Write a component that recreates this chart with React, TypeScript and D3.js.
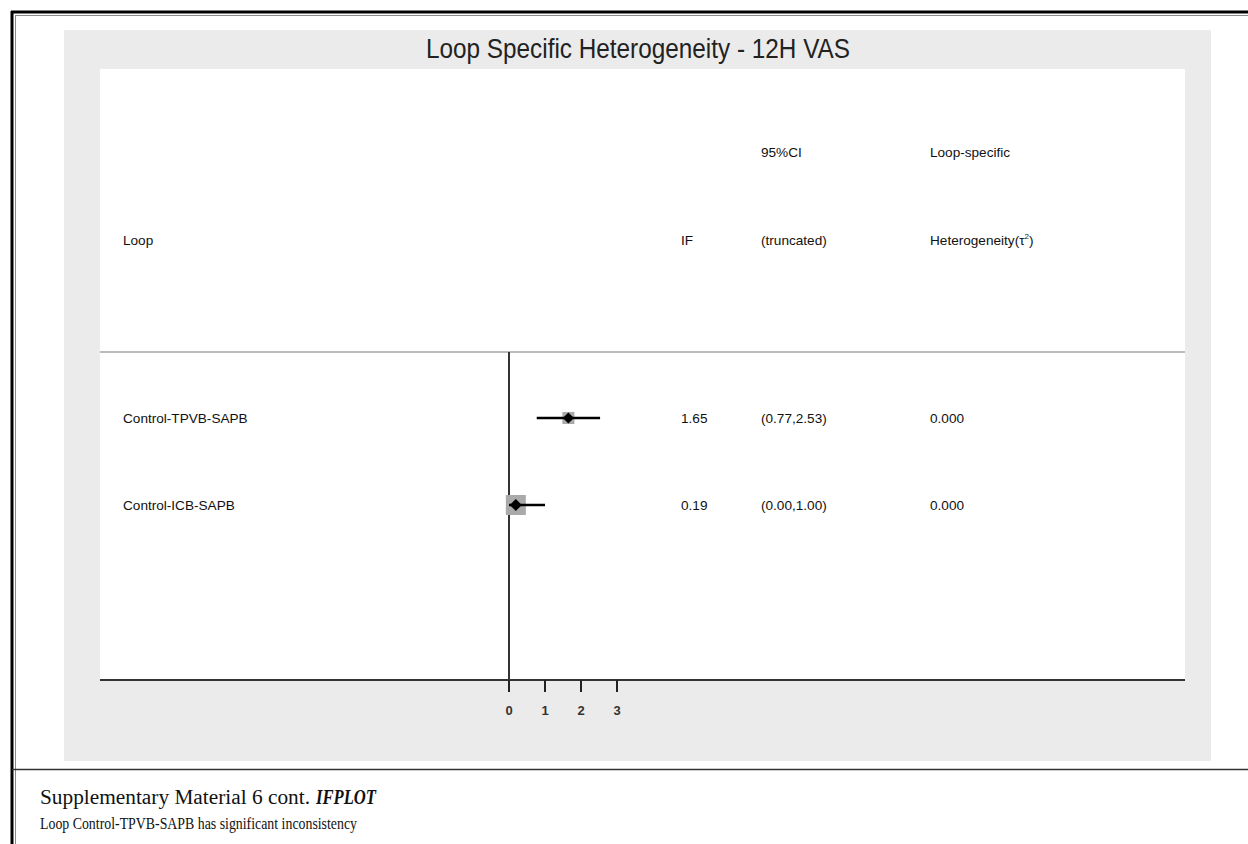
import React from "react";
import * as d3 from "d3";

const loops = ["Control-TPVB-SAPB", "Control-ICB-SAPB"];
const ifValues = [1.65, 0.19];
const ciLower = [0.77, 0.0];
const ciUpper = [2.53, 1.0];
const ifLabels = ["1.65", "0.19"];
const ciLabels = ["(0.77,2.53)", "(0.00,1.00)"];
const tauLabels = ["0.000", "0.000"];
const weights = [12, 20];
const xTicks = [0, 1, 2, 3];

export default function App() {
  const W = 1248, H = 844;
  const x = d3.scaleLinear().domain([0, 3]).range([509, 617]);
  const y = d3.scalePoint<string>().domain(loops).range([418, 505]);
  const sans = "'Liberation Sans', Arial, sans-serif";
  const serif = "'Liberation Serif', 'Times New Roman', serif";
  const fs = 13.6;
  const diamond = (cx: number, cy: number, r: number) =>
    `M${cx - r},${cy} L${cx},${cy - r} L${cx + r},${cy} L${cx},${cy + r} Z`;
  return (
    <svg width={W} height={H} style={{ position: "absolute", left: 0, top: 0 }}>
      <rect x={0} y={0} width={W} height={H} fill="#fff" />
      {/* outer frame */}
      <line x1={11} y1={12} x2={W} y2={12} stroke="#000" strokeWidth={3} />
      <line x1={15} y1={15.5} x2={W} y2={15.5} stroke="#888" strokeWidth={1} />
      <line x1={12} y1={11} x2={12} y2={H} stroke="#000" strokeWidth={3} />
      <line x1={15.5} y1={15} x2={15.5} y2={H} stroke="#888" strokeWidth={1} />
      <line x1={12} y1={769.5} x2={W} y2={769.5} stroke="#333" strokeWidth={1.5} />
      {/* gray panel */}
      <rect x={64} y={30} width={1147} height={731} fill="#ebebeb" />
      <rect x={100} y={69} width={1085} height={611} fill="#fff" />
      <text x={426} y={58} fontFamily={sans} fontSize={27} fill="#222"
        textLength={424} lengthAdjust="spacingAndGlyphs">
        Loop Specific Heterogeneity - 12H VAS
      </text>
      {/* headers */}
      <g fontFamily={sans} fontSize={fs} fill="#111">
        <text x={761} y={157}>95%CI</text>
        <text x={930} y={157}>Loop-specific</text>
        <text x={123} y={245}>Loop</text>
        <text x={681} y={245}>IF</text>
        <text x={761} y={245}>(truncated)</text>
        <text x={930} y={245}>
          Heterogeneity(τ<tspan dy={-6} fontSize={8}>2</tspan><tspan dy={6}>)</tspan>
        </text>
      </g>
      <line x1={100} y1={352} x2={1185} y2={352} stroke="#bbb" strokeWidth={2} />
      {/* null line */}
      <line x1={x(0)} y1={352} x2={x(0)} y2={690} stroke="#333" strokeWidth={2} />
      {/* axis */}
      <line x1={100} y1={680} x2={1185} y2={680} stroke="#333" strokeWidth={2} />
      {xTicks.map((t) => (
        <g key={t}>
          <line x1={x(t)} y1={680} x2={x(t)} y2={692} stroke="#222" strokeWidth={2} />
          <text x={x(t)} y={715} textAnchor="middle" fontFamily={sans} fontWeight="bold" fontSize={13} fill="#333">
            {t}
          </text>
        </g>
      ))}
      {/* rows */}
      {loops.map((l, i) => {
        const cy = y(l)!;
        const cx = x(ifValues[i]);
        const s = weights[i];
        return (
          <g key={l}>
            <text x={123} y={cy + 5} fontFamily={sans} fontSize={fs} fill="#111">{l}</text>
            <rect x={cx - s / 2} y={cy - s / 2} width={s} height={s} fill="#aaa" />
            <line x1={x(ciLower[i])} y1={cy} x2={x(ciUpper[i])} y2={cy} stroke="#000" strokeWidth={2.5} />
            <path d={diamond(cx, cy, i === 0 ? 5.5 : 6)} fill="#000" />
            <g fontFamily={sans} fontSize={fs} fill="#111">
              <text x={681} y={cy + 5}>{ifLabels[i]}</text>
              <text x={761} y={cy + 5}>{ciLabels[i]}</text>
              <text x={930} y={cy + 5}>{tauLabels[i]}</text>
            </g>
          </g>
        );
      })}
      {/* caption */}
      <text x={40} y={804} fontFamily={serif} fontSize={20} fill="#111"
        textLength={270} lengthAdjust="spacingAndGlyphs">
        Supplementary Material 6 cont.
      </text>
      <text x={316} y={804} fontFamily={serif} fontSize={20} fontStyle="italic" fontWeight="bold" fill="#111"
        textLength={60} lengthAdjust="spacingAndGlyphs">
        IFPLOT
      </text>
      <text x={40} y={829} fontFamily={serif} fontSize={16} fill="#111"
        textLength={317} lengthAdjust="spacingAndGlyphs">
        Loop Control-TPVB-SAPB has significant inconsistency
      </text>
    </svg>
  );
}
